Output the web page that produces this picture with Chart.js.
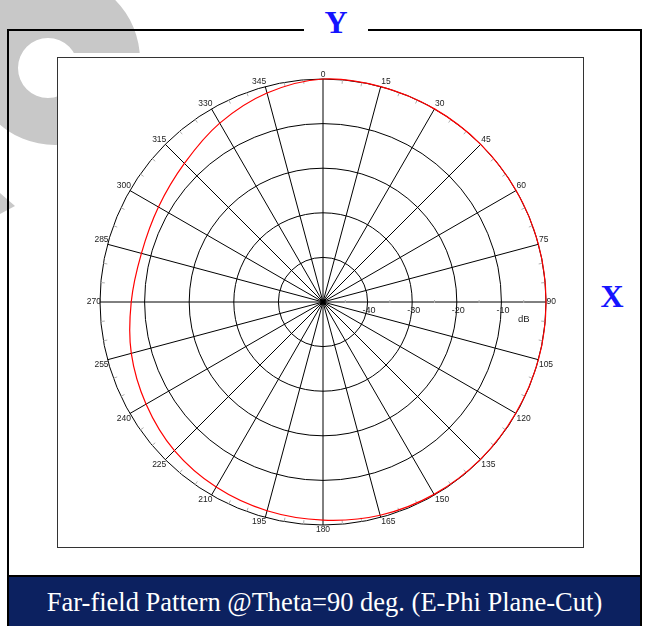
<!DOCTYPE html>
<html>
<head>
<meta charset="utf-8">
<script src="https://cdn.jsdelivr.net/npm/chart.js@4.4.0/dist/chart.umd.min.js"></script>
<style>
  body { margin: 0; width: 648px; height: 626px; position: relative; overflow: hidden; background: #fff;
         font-family: "Liberation Serif", "Times New Roman", serif; }
  #mark { position: absolute; left: 0; top: 0; }
  #frame { position: absolute; left: 7px; top: 29px; width: 631px; height: 640px; border: 2px solid #000; }
  #ylab { position: absolute; left: 304px; top: 4px; width: 64px; height: 36px; line-height: 36px; background: #fff;
          text-align: center; color: #1414ff; font-weight: bold; font-size: 32px; }
  #xlab { position: absolute; left: 596px; top: 278px; width: 32px; line-height: 36px;
          text-align: center; color: #1414ff; font-weight: bold; font-size: 32px; }
  #plotbox { position: absolute; left: 57px; top: 57px; width: 527px; height: 491px; box-sizing: border-box;
             border: 1px solid #333; background: #fff; }
  #polar { position: absolute; left: 80px; top: 59px; }
  #caption { position: absolute; left: 9px; top: 575px; width: 631px; height: 60px; border-top: 2px solid #000;
             background: #0c2160; color: #fff; font-size: 26.5px; line-height: 50px; text-align: center; }
</style>
</head>
<body>
<svg id="mark" width="648" height="626">
  <defs>
    <clipPath id="cut"><polygon points="0,0 648,0 648,53 62,53 62,626 0,626"/></clipPath>
  </defs>
  <path clip-path="url(#cut)" fill="#c8c8c8" fill-rule="evenodd"
        d="M -30,60 a85,85 0 1,0 170,0 a85,85 0 1,0 -170,0 Z M 18,68 a30,30 0 1,0 60,0 a30,30 0 1,0 -60,0 Z"/>
  <polygon fill="#c8c8c8" points="0,193 15,206 0,214"/>
</svg>
<div id="frame"></div>
<div id="ylab">Y</div>
<div id="xlab">X</div>
<div id="plotbox"></div>
<canvas id="polar" width="486" height="486"></canvas>
<div id="caption">Far-field Pattern @Theta=90 deg. (E-Phi Plane-Cut)</div>

<script>
// phi angle (deg), one spoke every 15 deg
const angleLabels = ['0','15','30','45','60','75','90','105','120','135','150','165',
                     '180','195','210','225','240','255','270','285','300','315','330','345'];
// E-Phi gain in dB at each angle above
const gainDb = [0, 0, 0, 0, 0, 0, 0, 0, -0.1, -0.1, -0.2, -0.5,
                -1.1, -1.55, -2.1, -2.9, -4.2, -5.5, -7.0, -7.85, -7.4, -6.05, -3.7, -1.5];
const ringTicks = [-40, -30, -20, -10];

// small ticks, angle labels and dB labels
const polarDecor = {
  id: 'polarDecor',
  beforeDatasetsDraw(chart) {
    const r = chart.scales.r;
    const ctx = chart.ctx;
    const R = r.drawingArea;
    const cx = r.xCenter, cy = r.yCenter;
    ctx.save();
    ctx.strokeStyle = '#b0b0b0';
    ctx.lineWidth = 1;
    ctx.beginPath();
    for (let a = 0; a < 360; a += 5) {
      if (a % 15 === 0) continue;
      const t = (a - 90) * Math.PI / 180;
      ctx.moveTo(cx + (R - 4) * Math.cos(t), cy + (R - 4) * Math.sin(t));
      ctx.lineTo(cx + R * Math.cos(t), cy + R * Math.sin(t));
    }
    for (let v = -45; v < 0; v += 10) {
      const x = cx + r.getDistanceFromCenterForValue(v);
      ctx.moveTo(x, cy - 2);
      ctx.lineTo(x, cy + 1);
    }
    ctx.stroke();

    ctx.fillStyle = '#222';
    ctx.font = '8.5px "Liberation Sans", Arial, sans-serif';
    angleLabels.forEach((lab, i) => {
      const a = Number(lab);
      const p = r.getPointPosition(i, R);
      let x = p.x, y = p.y;
      if (a === 0 || a === 180) ctx.textAlign = 'center';
      else if (a < 180) { ctx.textAlign = 'left'; x += 0.5; }
      else { ctx.textAlign = 'right'; x += 1; }
      if (a === 90 || a === 270) ctx.textBaseline = 'middle';
      else if (a > 90 && a < 270) { ctx.textBaseline = 'top'; y += 0.5; }
      else { ctx.textBaseline = 'alphabetic'; y -= 2.5; }
      ctx.fillText(lab, x, y);
    });

    ctx.font = '9px "Liberation Sans", Arial, sans-serif';
    ctx.textAlign = 'center';
    ctx.textBaseline = 'top';
    ringTicks.forEach(v => {
      ctx.fillText(String(v), cx + r.getDistanceFromCenterForValue(v) + 1.5, cy + 4.5);
    });
    ctx.font = '9.5px "Liberation Sans", Arial, sans-serif';
    ctx.fillText('dB', cx + r.getDistanceFromCenterForValue(-5), cy + 13);
    ctx.restore();
  }
};

const polar = document.getElementById('polar').getContext('2d');

let patternChart = new Chart(polar, {
    type: 'radar',
    data: {
        labels: angleLabels,
        datasets: [{
            label: 'E-Phi (dB)',
            data: gainDb,
            borderColor: '#ff0000',
            borderWidth: 1.2,
            pointRadius: 0,
            fill: false,
            tension: 0.34,
            capBezierPoints: false,
            clip: false
        }]
    },
    options: {
        responsive: false,
        animation: false,
        layout: { padding: 20 },
        plugins: {
            legend: { display: false },
            tooltip: { enabled: false }
        },
        scales: {
            r: {
                min: -50,
                max: 0,
                ticks: { display: false, stepSize: 10 },
                pointLabels: { display: false },
                grid: { circular: true, color: '#000', lineWidth: 1 },
                angleLines: { color: '#000', lineWidth: 1 }
            }
        }
    },
    plugins: [polarDecor]
});
</script>
</body>
</html>
